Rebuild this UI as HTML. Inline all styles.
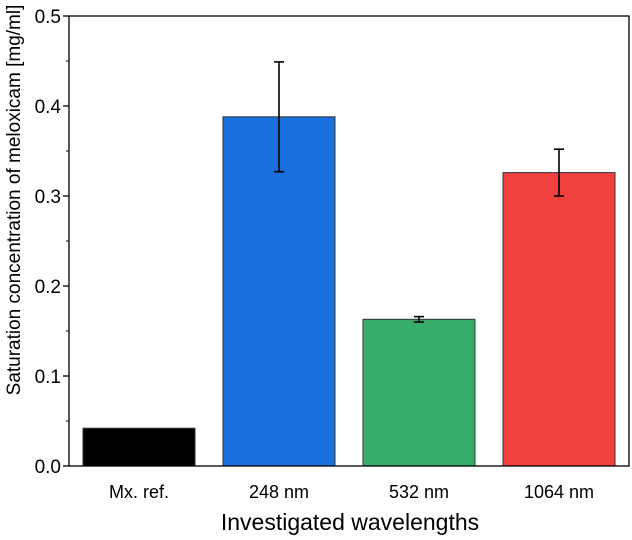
<!DOCTYPE html>
<html><head><meta charset="utf-8"><style>
body{margin:0;background:#fff;}
svg text{font-family:"Liberation Sans",Arial,sans-serif;fill:#000;}
</style></head><body>
<svg id="chart" width="632" height="535" xmlns="http://www.w3.org/2000/svg"></svg>
<script>
const categories = ["Mx. ref.", "248 nm", "532 nm", "1064 nm"];
const values = [0.042, 0.388, 0.163, 0.326];
const errors = [0, 0.061, 0.003, 0.026];
const colors = ["#000000", "#1a6fdf", "#37ad6b", "#f0413f"];
const yTicks = [0.0, 0.1, 0.2, 0.3, 0.4, 0.5];
const yTickLabels = ["0.0", "0.1", "0.2", "0.3", "0.4", "0.5"];

const L = 69, R = 629, T = 16, B = 466, yMax = 0.5;
const svg = document.getElementById('chart');
const NS = "http://www.w3.org/2000/svg";
function y(v){ return B - v / yMax * (B - T); }
const band = (R - L) / categories.length;
function xc(i){ return L + band * (i + 0.5); }
function mk(tag, attrs, name){
  const e = document.createElementNS(NS, tag);
  for (const k in attrs) e.setAttribute(k, attrs[k]);
  
  
  svg.appendChild(e);
  return e;
}
const bw = band * 0.8;
categories.forEach((c, i) => {
  const b = mk('rect', {x: xc(i) - bw/2, y: y(values[i]), width: bw, height: B - y(values[i]), fill: colors[i], stroke: '#333', 'stroke-width': 1}, 'bar');
  
  if (errors[i] > 0) {
    const yt = y(values[i] + errors[i]), yb = y(values[i] - errors[i]);
    mk('line', {x1: xc(i), x2: xc(i), y1: yt, y2: yb, stroke: '#000', 'stroke-width': 1.6}, 'error-bar');
    mk('line', {x1: xc(i) - 5, x2: xc(i) + 5, y1: yt, y2: yt, stroke: '#000', 'stroke-width': 1.6}, 'error-cap-top');
    mk('line', {x1: xc(i) - 5, x2: xc(i) + 5, y1: yb, y2: yb, stroke: '#000', 'stroke-width': 1.6}, 'error-cap-bottom');
  }
  const t = mk('text', {x: xc(i), y: 498, 'text-anchor': 'middle', 'font-size': 18}, 'x-tick-label');
  t.textContent = c;
});
mk('rect', {x: L, y: T, width: R - L, height: B - T, fill: 'none', stroke: '#000', 'stroke-width': 1.3}, 'plot-frame');
yTicks.forEach((v, i) => {
  mk('line', {x1: L - 6, x2: L, y1: y(v), y2: y(v), stroke: '#000', 'stroke-width': 1.3}, 'y-tick');
  if (i < yTicks.length - 1) mk('line', {x1: L - 3, x2: L, y1: y(v + 0.05), y2: y(v + 0.05), stroke: '#000', 'stroke-width': 1}, 'y-minor-tick');
  const t = mk('text', {x: L - 8, y: y(v) + 7, 'text-anchor': 'end', 'font-size': 19}, 'y-tick-label');
  t.textContent = yTickLabels[i];
});
const xt = mk('text', {x: 350, y: 530, 'text-anchor': 'middle', 'font-size': 23}, 'x-axis-title');
xt.textContent = 'Investigated wavelengths';
const yt = mk('text', {x: 0, y: 0, 'text-anchor': 'middle', 'font-size': 19, transform: 'translate(20,200) rotate(-90)'}, 'y-axis-title');
yt.textContent = 'Saturation concentration of meloxicam [mg/ml]';
</script>
</body></html>
